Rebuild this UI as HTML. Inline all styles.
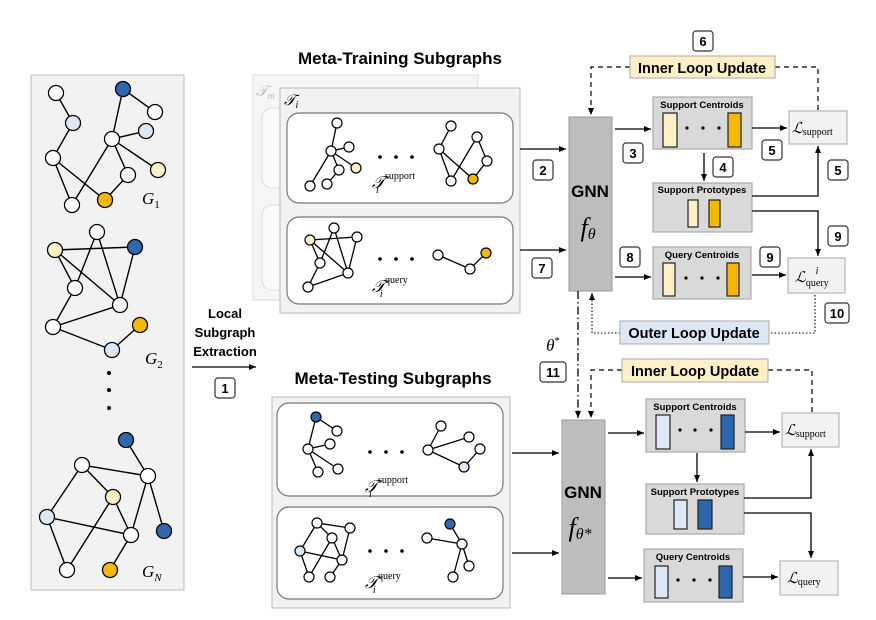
<!DOCTYPE html>
<html><head><meta charset="utf-8"><style>
html,body{margin:0;padding:0;background:#fff;}
svg{display:block;font-family:"Liberation Sans",sans-serif;}
.b{font-weight:bold;}
.s{font-family:"Liberation Serif",serif;font-style:italic;}
</style></head><body>
<svg width="876" height="620" viewBox="0 0 876 620" xmlns="http://www.w3.org/2000/svg">
<defs>
<marker id="a" markerWidth="8" markerHeight="8" refX="7" refY="4" orient="auto" markerUnits="userSpaceOnUse"><path d="M0,1 L7,4 L0,7z" fill="#000"/></marker>
</defs>

<!-- Left panel -->
<rect x="31" y="75" width="153" height="515" fill="#f2f2f2" stroke="#bbb"/>
<g stroke="#000" stroke-width="1.4" fill="none">
<path d="M56,93L73,123L53,158L72,205M53,158L105,200L128,175L112,139L123,89L155,112M72,205L112,139L146,131M112,139L158,170"/>
<path d="M55,250L135,247L120,305L55,250L75,288L97,232L120,305L53,327L75,288M53,327L112,350L140,325"/>
<path d="M126,440L148,476L82,465L47,517L131,535L148,476L164,531M82,465L113,497L131,535L110,570M47,517L67,570L113,497"/>
</g>
<g stroke="#000" stroke-width="1.3">
<circle cx="56" cy="93" r="7.5" fill="#fff"/><circle cx="73" cy="123" r="7.5" fill="#dde6f3"/><circle cx="53" cy="158" r="7.5" fill="#fff"/><circle cx="72" cy="205" r="7.5" fill="#fff"/><circle cx="105" cy="200" r="7.5" fill="#f5b800"/><circle cx="128" cy="175" r="7.5" fill="#fff"/><circle cx="112" cy="139" r="7.5" fill="#fff"/><circle cx="123" cy="89" r="7.5" fill="#2e67ad"/><circle cx="155" cy="112" r="7.5" fill="#fff"/><circle cx="146" cy="131" r="7.5" fill="#dde8f5"/><circle cx="158" cy="170" r="7.5" fill="#fdf0c8"/>
<circle cx="97" cy="232" r="7.5" fill="#fff"/><circle cx="55" cy="250" r="7.5" fill="#fdf0c8"/><circle cx="135" cy="247" r="7.5" fill="#2e67ad"/><circle cx="75" cy="288" r="7.5" fill="#fff"/><circle cx="120" cy="305" r="7.5" fill="#fff"/><circle cx="53" cy="327" r="7.5" fill="#fff"/><circle cx="112" cy="350" r="7.5" fill="#dde8f5"/><circle cx="140" cy="325" r="7.5" fill="#f5b800"/>
<circle cx="126" cy="440" r="7.5" fill="#2e67ad"/><circle cx="82" cy="465" r="7.5" fill="#fff"/><circle cx="148" cy="476" r="7.5" fill="#fff"/><circle cx="113" cy="497" r="7.5" fill="#fdf0c8"/><circle cx="47" cy="517" r="7.5" fill="#dde8f5"/><circle cx="131" cy="535" r="7.5" fill="#fff"/><circle cx="164" cy="531" r="7.5" fill="#2e67ad"/><circle cx="67" cy="570" r="7.5" fill="#fff"/><circle cx="110" cy="570" r="7.5" fill="#f5b800"/>
</g>
<circle cx="109" cy="373" r="2" fill="#000"/><circle cx="109" cy="390" r="2" fill="#000"/><circle cx="109" cy="408" r="2" fill="#000"/>
<text x="142" y="204" class="s" font-size="17">G<tspan font-size="11" font-style="normal" dy="4">1</tspan></text>
<text x="145" y="364" class="s" font-size="17">G<tspan font-size="11" font-style="normal" dy="4">2</tspan></text>
<text x="142" y="577" class="s" font-size="17">G<tspan font-size="11" dy="4">N</tspan></text>

<g class="b" font-size="13" text-anchor="middle"><text x="225" y="318">Local</text><text x="225" y="337">Subgraph</text><text x="225" y="356">Extraction</text></g>
<line x1="192" y1="367" x2="256" y2="367" stroke="#000" stroke-width="1.2" marker-end="url(#a)"/>

<g fill="#fff" stroke="#333" stroke-width="1.2">
<rect x="215" y="378" width="20" height="20" rx="3"/>
<rect x="533" y="160" width="20" height="20" rx="3"/>
<rect x="532" y="258" width="20" height="20" rx="3"/>
<rect x="623" y="143" width="20" height="20" rx="3"/>
<rect x="713" y="157" width="20" height="20" rx="3"/>
<rect x="762" y="140" width="20" height="20" rx="3"/>
<rect x="828" y="160" width="20" height="20" rx="3"/>
<rect x="693" y="31" width="20" height="20" rx="3"/>
<rect x="620" y="247" width="20" height="20" rx="3"/>
<rect x="760" y="247" width="20" height="20" rx="3"/>
<rect x="828" y="226" width="20" height="20" rx="3"/>
<rect x="825" y="303" width="24" height="20" rx="3"/>
<rect x="540" y="362" width="26" height="20" rx="3"/>
</g>
<g class="b" font-size="13" text-anchor="middle">
<text x="225" y="393">1</text><text x="543" y="175">2</text><text x="542" y="273">7</text><text x="633" y="158">3</text><text x="723" y="172">4</text><text x="772" y="155">5</text><text x="838" y="175">5</text><text x="703" y="46">6</text><text x="630" y="262">8</text><text x="770" y="262">9</text><text x="838" y="241">9</text><text x="837" y="318">10</text><text x="553" y="377">11</text>
</g>

<!-- Meta-training -->
<text x="400" y="64" class="b" font-size="17" text-anchor="middle">Meta-Training Subgraphs</text>
<rect x="253" y="75" width="225" height="225" fill="#f5f5f5" stroke="#ddd"/>
<rect x="262" y="108" width="30" height="80" rx="10" fill="#fafafa" stroke="#ddd"/>
<rect x="262" y="205" width="30" height="85" rx="10" fill="#fafafa" stroke="#ddd"/>
<text x="256" y="96" class="s" font-size="15" fill="#bbb">𝒯<tspan font-size="10" dy="3">m</tspan></text>
<rect x="280" y="88" width="240" height="225" fill="#f2f2f2" stroke="#bbb"/>
<text x="284" y="105" class="s" font-size="15">𝒯<tspan font-size="10" dy="3">i</tspan></text>
<rect x="287" y="113" width="226" height="90" rx="12" fill="#fff" stroke="#777" stroke-width="1.2"/>
<rect x="287" y="217" width="226" height="87" rx="12" fill="#fff" stroke="#777" stroke-width="1.2"/>
<g stroke="#000" stroke-width="1.3" fill="none">
<path d="M337,123L331,151L349,147M331,151L356,168M331,151L310,186M331,151L339,170L327,184"/>
<path d="M451,126L439,149L451,181M439,149L473,179L487,161L477,137L451,181"/>
<path d="M310,240L357,237L348,273L310,240L320,263L334,228L348,273L308,287L320,263"/>
<path d="M438,255L470,269L486,253"/>
</g>
<g stroke="#000" stroke-width="1.2" fill="#fff">
<circle cx="337" cy="123" r="5"/><circle cx="331" cy="151" r="5"/><circle cx="349" cy="147" r="5"/><circle cx="339" cy="170" r="5"/><circle cx="356" cy="168" r="5" fill="#fdf0c8"/><circle cx="310" cy="186" r="5"/><circle cx="327" cy="184" r="5"/>
<circle cx="451" cy="126" r="5"/><circle cx="439" cy="149" r="5"/><circle cx="477" cy="137" r="5"/><circle cx="487" cy="161" r="5"/><circle cx="451" cy="181" r="5"/><circle cx="473" cy="179" r="5" fill="#f5b800"/>
<circle cx="310" cy="240" r="5" fill="#fdf0c8"/><circle cx="334" cy="228" r="5"/><circle cx="357" cy="237" r="5"/><circle cx="320" cy="263" r="5"/><circle cx="348" cy="273" r="5"/><circle cx="308" cy="287" r="5"/>
<circle cx="438" cy="255" r="5"/><circle cx="470" cy="269" r="5"/><circle cx="486" cy="253" r="5" fill="#f5b800"/>
</g>
<g fill="#000"><circle cx="380" cy="157" r="1.8"/><circle cx="396" cy="157" r="1.8"/><circle cx="412" cy="157" r="1.8"/><circle cx="380" cy="259" r="1.8"/><circle cx="396" cy="259" r="1.8"/><circle cx="412" cy="259" r="1.8"/></g>
<text x="372" y="188" class="s" font-size="17">𝒯<tspan font-size="10" font-style="normal" dy="-9">support</tspan><tspan font-size="10" dx="-39" dy="14">i</tspan></text>
<text x="372" y="292" class="s" font-size="17">𝒯<tspan font-size="10" font-style="normal" dy="-9">query</tspan><tspan font-size="10" dx="-28" dy="14">i</tspan></text>

<!-- Meta-testing -->
<text x="393" y="384" class="b" font-size="17" text-anchor="middle">Meta-Testing Subgraphs</text>
<rect x="272" y="397" width="238" height="211" fill="#f2f2f2" stroke="#bbb"/>
<rect x="277" y="403" width="226" height="93" rx="12" fill="#fff" stroke="#777" stroke-width="1.2"/>
<rect x="277" y="507" width="226" height="92" rx="12" fill="#fff" stroke="#777" stroke-width="1.2"/>
<g stroke="#000" stroke-width="1.3" fill="none">
<path d="M337,431L316,417L308,449L330,444M308,449L318,472M308,449L338,469"/>
<path d="M441,426L428,450L469,437M428,450L464,467L480,449"/>
<path d="M350,528L317,523L300,551L342,560L350,528M317,523L332,538L342,560L330,577M332,538L309,577L300,551"/>
<path d="M450,524L462,544L427,538M462,544L453,577M462,544L469,566"/>
</g>
<g stroke="#000" stroke-width="1.2" fill="#fff">
<circle cx="316" cy="417" r="5" fill="#2e67ad"/><circle cx="337" cy="431" r="5"/><circle cx="330" cy="444" r="5"/><circle cx="308" cy="449" r="5"/><circle cx="318" cy="472" r="5"/><circle cx="338" cy="469" r="5"/>
<circle cx="441" cy="426" r="5"/><circle cx="469" cy="437" r="5"/><circle cx="428" cy="450" r="5"/><circle cx="480" cy="449" r="5"/><circle cx="464" cy="467" r="5" fill="#dde8f5"/>
<circle cx="317" cy="523" r="5"/><circle cx="350" cy="528" r="5"/><circle cx="332" cy="538" r="5"/><circle cx="300" cy="551" r="5" fill="#dde8f5"/><circle cx="342" cy="560" r="5"/><circle cx="309" cy="577" r="5"/><circle cx="330" cy="577" r="5"/>
<circle cx="450" cy="524" r="5" fill="#2e67ad"/><circle cx="427" cy="538" r="5"/><circle cx="462" cy="544" r="5"/><circle cx="453" cy="577" r="5"/><circle cx="469" cy="566" r="5"/>
</g>
<g fill="#000"><circle cx="370" cy="452" r="1.8"/><circle cx="386" cy="452" r="1.8"/><circle cx="402" cy="452" r="1.8"/><circle cx="370" cy="551" r="1.8"/><circle cx="386" cy="551" r="1.8"/><circle cx="402" cy="551" r="1.8"/></g>
<text x="365" y="492" class="s" font-size="17">𝒯<tspan font-size="10" font-style="normal" dy="-9">support</tspan><tspan font-size="10" dx="-39" dy="14">i</tspan></text>
<text x="365" y="588" class="s" font-size="17">𝒯<tspan font-size="10" font-style="normal" dy="-9">query</tspan><tspan font-size="10" dx="-28" dy="14">i</tspan></text>

<g stroke="#000" stroke-width="1.3" fill="none">
<line x1="520" y1="149" x2="566" y2="149" marker-end="url(#a)"/>
<line x1="520" y1="250" x2="566" y2="250" marker-end="url(#a)"/>
<line x1="512" y1="453" x2="559" y2="453" marker-end="url(#a)"/>
<line x1="512" y1="553" x2="559" y2="553" marker-end="url(#a)"/>
</g>

<rect x="569" y="117" width="43" height="174" fill="#bdbdbd" stroke="#999"/>
<text x="590" y="197" class="b" font-size="17" text-anchor="middle">GNN</text>
<text x="588" y="236" class="s" font-size="26" text-anchor="middle">f<tspan font-size="16" dy="3">θ</tspan></text>
<rect x="562" y="420" width="43" height="174" fill="#bdbdbd" stroke="#999"/>
<text x="583" y="498" class="b" font-size="17" text-anchor="middle">GNN</text>
<text x="580" y="536" class="s" font-size="26" text-anchor="middle">f<tspan font-size="16" dy="3">θ*</tspan></text>

<g fill="#d9d9d9" stroke="#aaa" stroke-width="1.2">
<rect x="653" y="97" width="99" height="52"/><rect x="653" y="183" width="99" height="49"/><rect x="653" y="247" width="98" height="52"/>
<rect x="646" y="399" width="99" height="53"/><rect x="646" y="484" width="98" height="50"/><rect x="644" y="549" width="99" height="53"/>
</g>
<g class="b" font-size="9.5" text-anchor="middle">
<text x="702" y="108">Support Centroids</text><text x="702" y="193">Support Prototypes</text><text x="702" y="258">Query Centroids</text>
<text x="695" y="410">Support Centroids</text><text x="695" y="495">Support Prototypes</text><text x="693" y="560">Query Centroids</text>
</g>
<g stroke="#222" stroke-width="1.2">
<rect x="663" y="113" width="14" height="34" fill="#fdf0c8"/><rect x="728" y="113" width="13" height="34" fill="#f5b800"/>
<rect x="688" y="200" width="10" height="27" fill="#fdf0c8"/><rect x="709" y="200" width="11" height="27" fill="#f5b800"/>
<rect x="663" y="263" width="12" height="33" fill="#fdf0c8"/><rect x="727" y="263" width="12" height="33" fill="#f5b800"/>
<rect x="656" y="415" width="14" height="34" fill="#dde8f5"/><rect x="721" y="415" width="13" height="34" fill="#2e67ad"/>
<rect x="674" y="500" width="13" height="29" fill="#dde8f5"/><rect x="698" y="500" width="14" height="29" fill="#2e67ad"/>
<rect x="655" y="566" width="13" height="32" fill="#dde8f5"/><rect x="719" y="566" width="13" height="32" fill="#2e67ad"/>
</g>
<g fill="#000">
<circle cx="687" cy="128" r="1.6"/><circle cx="703" cy="128" r="1.6"/><circle cx="719" cy="128" r="1.6"/>
<circle cx="686" cy="278" r="1.6"/><circle cx="702" cy="278" r="1.6"/><circle cx="718" cy="278" r="1.6"/>
<circle cx="680" cy="430" r="1.6"/><circle cx="695" cy="430" r="1.6"/><circle cx="711" cy="430" r="1.6"/>
<circle cx="678" cy="580" r="1.6"/><circle cx="694" cy="580" r="1.6"/><circle cx="710" cy="580" r="1.6"/>
</g>
<g fill="#f2f2f2" stroke="#aaa">
<rect x="789" y="111" width="58" height="33"/><rect x="788" y="258" width="57" height="35"/>
<rect x="782" y="413" width="57" height="34"/><rect x="780" y="561" width="58" height="34"/>
</g>
<g class="s" font-size="15">
<text x="792" y="133">ℒ<tspan font-size="10" font-style="normal" dy="2">support</tspan></text>
<text x="795" y="282">ℒ<tspan font-size="10" font-style="normal" dy="4">query</tspan><tspan font-size="10" dx="-13" dy="-12">i</tspan></text>
<text x="785" y="435">ℒ<tspan font-size="10" font-style="normal" dy="2">support</tspan></text>
<text x="787" y="583">ℒ<tspan font-size="10" font-style="normal" dy="2">query</tspan></text>
</g>

<g stroke="#000" stroke-width="1.3" fill="none">
<line x1="615" y1="129" x2="651" y2="129" marker-end="url(#a)"/>
<line x1="752" y1="128" x2="787" y2="128" marker-end="url(#a)"/>
<line x1="704" y1="153" x2="704" y2="181" marker-end="url(#a)"/>
<polyline points="752,196 818,196 818,146" marker-end="url(#a)"/>
<polyline points="752,211 818,211 818,256" marker-end="url(#a)"/>
<line x1="615" y1="277" x2="651" y2="277" marker-end="url(#a)"/>
<line x1="752" y1="275" x2="786" y2="275" marker-end="url(#a)"/>
<line x1="608" y1="433" x2="644" y2="433" marker-end="url(#a)"/>
<line x1="745" y1="432" x2="780" y2="432" marker-end="url(#a)"/>
<line x1="697" y1="453" x2="697" y2="482" marker-end="url(#a)"/>
<polyline points="744,498 811,498 811,449" marker-end="url(#a)"/>
<polyline points="744,513 811,513 811,558" marker-end="url(#a)"/>
<line x1="608" y1="578" x2="642" y2="578" marker-end="url(#a)"/>
<line x1="743" y1="577" x2="778" y2="577" marker-end="url(#a)"/>
</g>
<g stroke="#000" stroke-width="1.2" fill="none" stroke-dasharray="5,4">
<polyline points="630,67 591,67 591,115" marker-end="url(#a)"/>
<polyline points="775,67 818,67 818,111"/>
<polyline points="622,370 591,370 591,418" marker-end="url(#a)"/>
<polyline points="768,370 812,370 812,413"/>
</g>
<g stroke="#000" stroke-width="1.1" fill="none" stroke-dasharray="1.5,2">
<polyline points="815,295 815,333 769,333"/>
<polyline points="620,333 592,333 592,293" marker-end="url(#a)"/>
</g>
<polyline points="578,291 578,418" stroke="#000" stroke-width="1.3" fill="none" stroke-dasharray="8,3,1.5,3" marker-end="url(#a)"/>
<text x="553" y="351" class="s" font-size="17" text-anchor="middle">θ<tspan font-size="11" font-style="normal" dy="-7">*</tspan></text>

<rect x="630" y="56" width="145" height="22" fill="#fdf0c8" stroke="#aaa"/>
<text x="702" y="73" class="b" font-size="14.5" text-anchor="middle">Inner Loop Update</text>
<rect x="620" y="321" width="149" height="23" fill="#dce8f5" stroke="#aaa"/>
<text x="694" y="338" class="b" font-size="14.5" text-anchor="middle">Outer Loop Update</text>
<rect x="622" y="359" width="146" height="23" fill="#fdf0c8" stroke="#aaa"/>
<text x="695" y="376" class="b" font-size="14.5" text-anchor="middle">Inner Loop Update</text>
</svg>
</body></html>
